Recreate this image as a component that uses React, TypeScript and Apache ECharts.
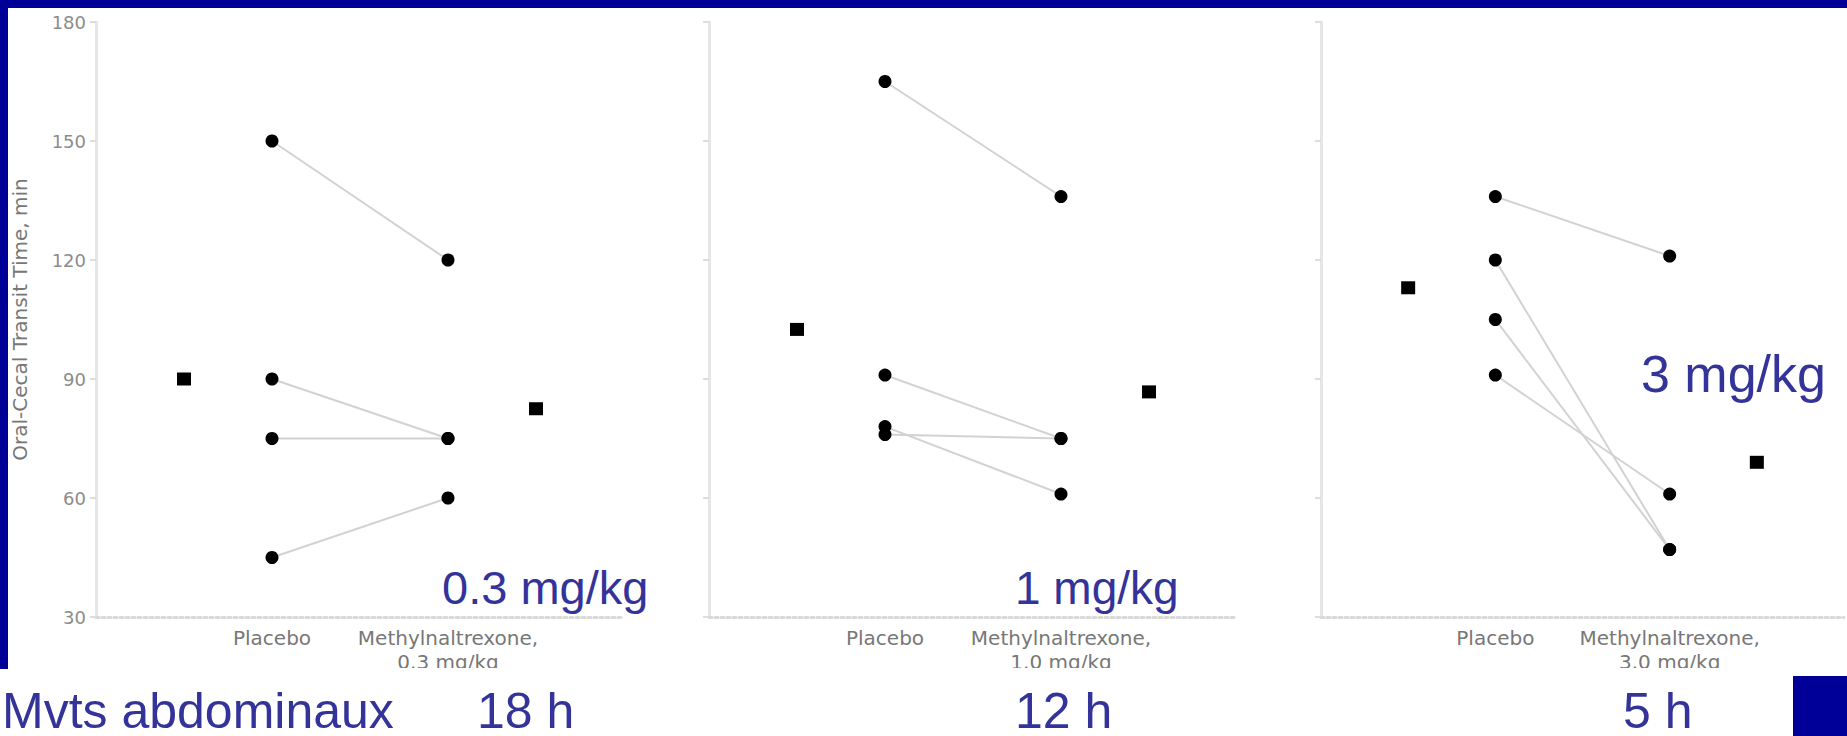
import React, { useEffect, useRef } from "react";
import * as echarts from "echarts";

// Oral-cecal transit time (min), placebo vs methylnaltrexone, per subject
const doses = ["0.3 mg/kg", "1 mg/kg", "3 mg/kg"];
const methylLabels = ["Methylnaltrexone,\n0.3 mg/kg", "Methylnaltrexone,\n1.0 mg/kg", "Methylnaltrexone,\n3.0 mg/kg"];
const placeboLabel = "Placebo";
const hours = ["18 h", "12 h", "5 h"];

const placebo1 = [150, 90, 75, 45];
const methyl1 = [120, 75, 75, 60];
const means1 = [90, 82.5];

const placebo2 = [165, 91, 76, 78];
const methyl2 = [136, 75, 75, 61];
const means2 = [102.5, 86.75];

const placebo3 = [136, 120, 105, 91];
const methyl3 = [121, 47, 47, 61];
const means3 = [113, 69];

const yTicks = [30, 60, 90, 120, 150, 180];

// x positions on each panel's value axis
const X_MEAN_PLACEBO = 0.5;
const X_PLACEBO = 1;
const X_METHYL = 2;
const X_MEAN_METHYL = 2.5;

const BLUE_FRAME = "#000099";
const BLUE_TEXT = "#333399";
const GRAY_TEXT = "#777777";
const SMALL_FONT = "DejaVu Sans";
const BIG_FONT = "Liberation Sans, Arial, sans-serif";

const panels = [
  { placebo: placebo1, methyl: methyl1, means: means1, left: 96, methylLabel: methylLabels[0] },
  { placebo: placebo2, methyl: methyl2, means: means2, left: 709, methylLabel: methylLabels[1] },
  { placebo: placebo3, methyl: methyl3, means: means3, left: 1321, methylLabel: methylLabels[2] },
];

export default function App() {
  const ref = useRef<HTMLDivElement>(null);

  useEffect(() => {
    if (!ref.current) return;
    const chart = echarts.init(ref.current, null, { renderer: "svg" });

    const grids = panels.map((p) => ({ left: p.left, top: 22, width: 528, height: 595 }));

    const xAxes = panels.map((p, i) => ({
      type: "value",
      gridIndex: i,
      min: 0,
      max: 3,
      interval: 1,
      axisLine: { show: true, lineStyle: { color: "#d9d9d9", width: 3, type: "dotted" } },
      axisTick: { show: false },
      splitLine: { show: false },
      axisLabel: {
        show: true,
        margin: 9,
        color: GRAY_TEXT,
        fontFamily: SMALL_FONT,
        fontSize: 20,
        lineHeight: 24,
        verticalAlign: "top",
        formatter: (v: number) => (v === X_PLACEBO ? placeboLabel : v === X_METHYL ? p.methylLabel : ""),
      },
    }));

    const yAxes = panels.map((p, i) => ({
      type: "value",
      gridIndex: i,
      min: 30,
      max: 180,
      interval: 30,
      name: i === 0 ? "Oral-Cecal Transit Time, min" : "",
      nameLocation: "middle",
      nameRotate: 90,
      nameGap: 66,
      nameTextStyle: { color: GRAY_TEXT, fontFamily: SMALL_FONT, fontSize: 20 },
      axisLine: { show: true, lineStyle: { color: "#e6e6e6", width: 3 } },
      axisTick: { show: true, length: 6, lineStyle: { color: "#dddddd", width: 2 } },
      splitLine: { show: false },
      axisLabel: {
        show: i === 0,
        margin: 10,
        color: "#8c8c8c",
        fontFamily: SMALL_FONT,
        fontSize: 18,
        formatter: (v: number) => (yTicks.includes(v) ? String(v) : ""),
      },
    }));

    const series: any[] = [];
    panels.forEach((p, i) => {
      p.placebo.forEach((pv, k) => {
        series.push({
          type: "line",
          xAxisIndex: i,
          yAxisIndex: i,
          data: [
            [X_PLACEBO, pv],
            [X_METHYL, p.methyl[k]],
          ],
          symbol: "circle",
          symbolSize: 13,
          itemStyle: { color: "#000", opacity: 1 },
          lineStyle: { color: "#d2d2d2", width: 2 },
          z: 3,
        });
      });
      series.push({
        type: "scatter",
        xAxisIndex: i,
        yAxisIndex: i,
        data: [
          [X_MEAN_PLACEBO, p.means[0]],
          [X_MEAN_METHYL, p.means[1]],
        ],
        symbol: "rect",
        symbolSize: [14, 13],
        itemStyle: { color: "#000", opacity: 1 },
        z: 4,
      });
    });

    // y is the top of the text box
    const bigText = (text: string, x: number, y: number, size: number, lineHeight?: number) => ({
      type: "text",
      x,
      y,
      z: 20,
      style: {
        text,
        fill: BLUE_TEXT,
        font: `${size}px ${BIG_FONT}`,
        verticalAlign: "top",
        align: "left",
        ...(lineHeight ? { lineHeight } : {}),
      },
    });

    const graphic = [
      // slide frame
      { type: "rect", z: 15, shape: { x: 0, y: 0, width: 1847, height: 8 }, style: { fill: BLUE_FRAME } },
      { type: "rect", z: 15, shape: { x: 0, y: 0, width: 8, height: 669 }, style: { fill: BLUE_FRAME } },
      { type: "rect", z: 14, shape: { x: 8, y: 668, width: 1785, height: 68 }, style: { fill: "#ffffff" } },
      { type: "rect", z: 15, shape: { x: 1793, y: 676, width: 54, height: 60 }, style: { fill: BLUE_FRAME } },
      // dose annotations
      bigText(doses[0], 442, 564, 47),
      bigText(doses[1], 1015, 565, 46),
      bigText(doses[2], 1641, 348, 52),
      // caption line
      bigText("Mvts abdominaux", 2, 689, 50, 44),
      bigText(hours[0], 477, 689, 50, 44),
      bigText(hours[1], 1015, 689, 50, 44),
      bigText(hours[2], 1623, 689, 50, 44),
    ];

    chart.setOption({
      animation: false,
      backgroundColor: "#ffffff",
      grid: grids,
      xAxis: xAxes,
      yAxis: yAxes,
      series,
      graphic,
    });

    return () => chart.dispose();
  }, []);

  return (
    <div
      ref={ref}
      style={{ position: "absolute", left: 0, top: 0, width: 1847, height: 736 }}
    />
  );
}
